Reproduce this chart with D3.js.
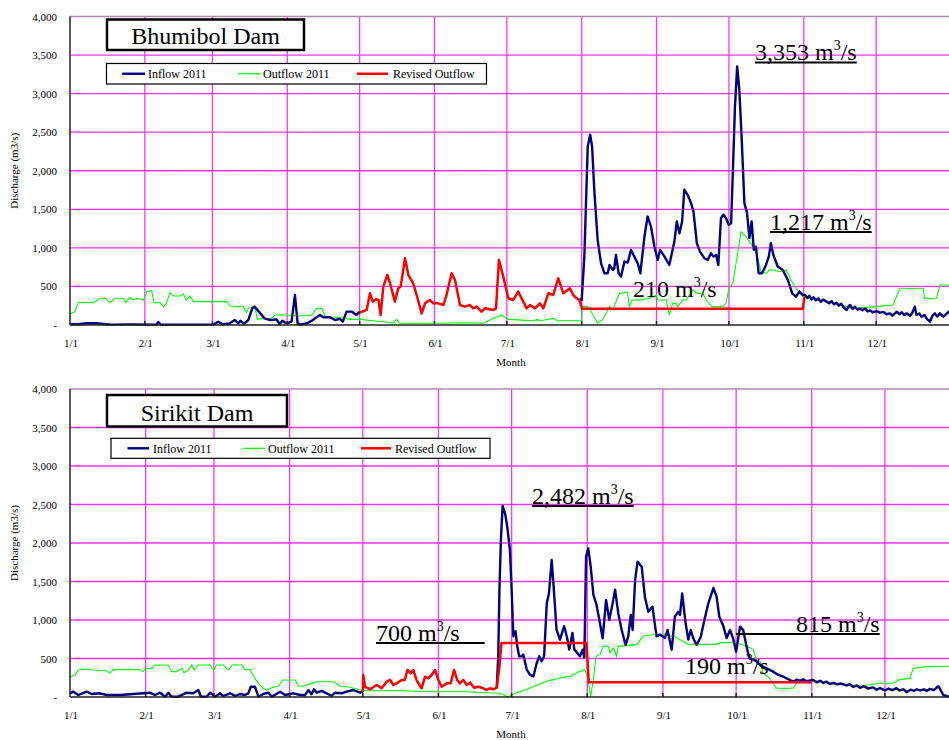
<!DOCTYPE html>
<html><head><meta charset="utf-8">
<script src="https://cdn.jsdelivr.net/npm/d3@7"></script>
<style>
body{margin:0;background:#fff}
svg{display:block}
text{font-family:"Liberation Serif","Times New Roman",serif;fill:#000}
</style>
</head><body>
<svg id="c" width="949" height="740"></svg>
<script>
// ---------- categories / ticks ----------
const monthLabels = ["1/1","2/1","3/1","4/1","5/1","6/1","7/1","8/1","9/1","10/1","11/1","12/1"];
const monthDays   = [0,31,59,90,120,151,181,212,243,273,304,334];
const yTicks      = [0,500,1000,1500,2000,2500,3000,3500,4000];
const seriesNames = ["Inflow 2011","Outflow 2011","Revised Outflow"];

// ---------- Bhumibol Dam (day of year, m3/s) ----------
const bhuOutflow = [[0,143],[2,172],[3.5,294],[9.7,290],[12.4,346],[14.5,346],[16.6,290],[18.6,346],[22,346],[23,290],[24.8,359],[26,324],[27.6,346],[29,335],[30.4,324],[31.8,432],[33.8,445],[34.8,290],[37.3,290],[38.7,238],[40,281],[41.4,419],[43,376],[45.6,376],[47,402],[48.1,324],[49.7,376],[51.1,303],[56.6,303],[64.9,303],[66.3,246],[71.8,238],[73.1,160],[73.8,216],[76.6,238],[77.6,73],[80.1,86],[82.9,73],[85,130],[89.8,130],[95.3,117],[100.1,130],[102.2,216],[104.3,216],[105.6,117],[109,100],[112,100],[116,73],[120.1,73],[129.8,43],[134,30],[135.3,73],[136.5,22],[150.5,22],[164.3,30],[171.2,22],[174,65],[178.8,130],[181.6,73],[192,56],[193.5,73],[195,56],[200.2,86],[202,56],[212,56],[212.3,238],[214,238],[215.5,200],[218.6,22],[220.6,65],[223.5,238],[224.9,195],[227,367],[227.7,410],[231,424],[231.7,238],[233,324],[236.4,324],[240,346],[243,389],[243.5,324],[247,324],[248.3,130],[249.7,281],[251,281],[251.7,238],[253.9,324],[255.2,324],[256.6,389],[258,454],[260,410],[262.2,410],[263.6,324],[266,238],[270.4,238],[271.8,281],[273,476],[274.6,540],[276.6,929],[278,1210],[280,1145],[282,1059],[284.2,950],[286.3,691],[288.4,670],[289.8,713],[291.8,713],[293.9,691],[296.7,713],[298.7,583],[300.8,475],[303.6,367],[306.3,346],[310.7,324],[317,281],[324.5,216],[334.2,238],[341,260],[343.8,476],[353.5,476],[354,346],[359,346],[360.4,519],[365,519]];
const bhuInflowA = [[0,13],[3,10],[7,22],[11,22],[17,5],[25,8],[35.9,5],[36.6,39],[37.6,3],[45,5],[59.4,5],[61.4,43],[63.2,9],[66,20],[68.3,65],[69.7,22],[70.6,56],[72,13],[73.9,65],[75.5,216],[76.5,238],[77.5,200],[80.6,86],[83,65],[85.6,73],[86.8,13],[88,56],[89.7,20],[91.8,43],[93.2,389],[94.3,20],[95.4,5],[98.2,22],[99.4,43],[100.3,56],[101.5,86],[103.5,130],[105,100],[107.7,100],[109.8,65],[111.8,80],[113,43],[114.6,173],[116.8,173],[118.7,130],[120.1,173]];
const bhuInflowB = [[211,333],[212,325],[213.1,887],[214.5,2316],[215.5,2468],[216.3,2316],[217.2,1753],[218.6,1104],[220,801],[221.4,671],[222.8,671],[223.5,779],[224.9,714],[225.5,736],[226.2,909],[227.3,671],[228.3,628],[229.7,823],[231.1,810],[232.4,974],[233.8,887],[235.2,801],[236.3,671],[238,1147],[239.3,1407],[240.7,1277],[242.1,1017],[243.5,844],[244.5,974],[246.3,887],[248.3,779],[250.4,1082],[251.4,1342],[252.5,1190],[253.6,1342],[254.5,1753],[255.9,1688],[257.3,1580],[258.3,1472],[259.7,1060],[261,952],[262.8,866],[264.2,844],[265.6,931],[266.6,887],[267.7,909],[268.6,779],[269.7,1385],[270.7,1429],[271.8,1385],[272.9,1299],[273.9,1320],[274.6,1970],[275.5,2835],[276.4,3353],[277.3,3052],[278.3,2403],[279.4,1580],[280.5,1450],[281.5,1126],[282.4,1342],[283.3,974],[284.2,1017],[285.3,671],[286.7,671],[288.1,758],[289.5,887],[290.4,1060],[291.4,909],[293.2,758],[295.3,714],[297.4,584],[299.2,411],[300.8,368],[302.2,433],[303.6,390],[304.5,389],[305.5,350],[306.3,380],[307.2,330],[308,360],[309,320],[310,345],[311,300],[312,330],[313.5,303],[314.5,280],[315.5,310],[316.5,270],[317.6,290],[318.5,250],[319.5,275],[320.5,230],[321.8,194],[322.5,240],[323.2,260],[324.2,210],[325.2,235],[326.2,200],[327.3,216],[328.3,190],[329.5,215],[330.5,175],[331.5,190],[332.5,165],[334.2,180],[335.5,160],[337,170],[338.2,140],[339.7,150],[340.8,120],[342.5,173],[343.6,140],[344.6,165],[345.6,130],[346.6,151],[348,120],[349,160],[350,238],[350.7,130],[351.8,150],[352.8,108],[354,130],[355,80],[356.3,43],[357.3,120],[358.3,151],[359.3,110],[360.4,151],[361.8,108],[363,140],[364.1,173],[365,160]];
const bhuRevised = [[120.1,160],[122.9,195],[124.3,411],[125.4,303],[126.8,335],[127.8,324],[128.7,130],[129.8,497],[131.5,648],[132.6,541],[134.6,303],[136,476],[137,497],[138.8,865],[140.2,648],[142.2,541],[143.6,389],[145.7,151],[147.1,281],[149.1,324],[150.5,281],[152.6,281],[154.7,259],[156,389],[158.1,670],[159.5,584],[161.6,259],[163.6,238],[165.7,259],[167.1,216],[168.5,238],[170.5,173],[171.9,216],[175.4,195],[176.5,216],[177.7,843],[179.5,627],[181.6,346],[183.6,324],[185.7,432],[187.1,346],[189.2,216],[190.6,259],[192.6,216],[194.7,281],[196.1,216],[198.2,411],[200.2,389],[202.3,605],[204.4,411],[207.1,476],[208.5,389],[209.9,346],[211,324],[212.2,210],[303.6,210],[304.3,367]];

// ---------- Sirikit Dam ----------
const sirOutflow = [[0,264],[2,286],[3.4,351],[5.5,364],[9.6,351],[15,342],[16.4,307],[17.8,355],[28.7,355],[29.8,329],[31.4,372],[33.4,372],[34.8,416],[40.3,416],[41.7,329],[43.7,329],[45.8,372],[46.7,316],[48.5,351],[49.9,416],[50.9,351],[52.6,416],[57.4,416],[58.7,351],[60,416],[62.8,416],[64.9,351],[66.5,416],[70.4,416],[71.7,355],[73.8,355],[75.4,264],[77.2,177],[79.2,113],[80.6,91],[82.7,121],[85.4,143],[87.2,221],[92.2,221],[93.6,143],[96,143],[99,177],[101.1,199],[107.9,199],[110.7,143],[114.8,126],[118.9,91],[121.6,82],[135.2,82],[150.3,69],[162.6,69],[170.8,56],[176.2,48],[179.6,0],[181.7,39],[185,74],[188.5,117],[195.4,204],[200.8,247],[204.9,268],[209,333],[211,355],[212,268],[213.4,7],[214.5,225],[215.6,528],[217.2,550],[218.5,658],[220.6,658],[221.3,571],[222.7,636],[224,528],[224.7,658],[232.2,680],[235,788],[237,801],[241.8,818],[247.3,788],[248.6,771],[253.4,684],[265,684],[266.5,706],[271.8,706],[275.3,684],[278.7,641],[280,615],[281.4,480],[282.8,463],[284.2,300],[286.2,264],[289.6,113],[296.4,113],[297.8,178],[301.9,212],[304.6,221],[310.1,178],[316.9,156],[323.8,143],[332,178],[337.4,178],[340.2,229],[344.2,242],[345.6,373],[351,394],[365,403]];
const sirInflowA = [[0,48],[1.4,69],[3.4,26],[6.8,69],[8.9,39],[12.3,48],[15,26],[20.5,26],[26,39],[30,48],[32.8,56],[34.8,26],[36.9,56],[39,4],[40.3,56],[41.7,4],[44.4,4],[47.8,56],[50.5,48],[52.6,91],[53.7,4],[56,4],[57.4,56],[59.5,4],[61.5,48],[62.8,13],[65.6,48],[67.7,13],[69.7,39],[71.7,26],[73.1,48],[74.1,134],[75.8,134],[77.2,4],[79.2,39],[81.3,56],[82.7,4],[86.1,69],[88.1,26],[91.5,48],[94.3,26],[96.3,26],[97.7,91],[99,35],[100,100],[101.1,56],[103.1,80],[105.2,48],[107.2,13],[108.6,56],[111.3,48],[113.4,69],[116.1,91],[118.9,56],[120,69]];
const sirInflowB = [[174.9,121],[175.5,524],[176,1394],[176.6,2043],[177.3,2481],[178.3,2385],[179.2,2212],[180.3,1909],[181,1394],[181.7,788],[182.1,831],[182.6,853],[183.3,658],[184.1,528],[185.1,528],[185.8,550],[187.2,355],[188.5,290],[189.9,268],[191.3,442],[192.3,528],[193.3,463],[194.3,528],[195.4,1216],[196.3,1346],[197.4,1779],[198.3,1394],[199.4,874],[200.8,745],[202.5,918],[203.6,788],[204.6,615],[205.9,831],[206.7,615],[207.9,571],[209,528],[210.1,615],[210.8,507],[211.5,1822],[212.4,1930],[213.4,1692],[214.5,1325],[215.8,1195],[217.2,957],[218.3,762],[219.7,1259],[221,1000],[222.4,1216],[223.4,1394],[224.7,1086],[226.1,870],[227.7,675],[228.8,788],[229.8,1065],[230.6,870],[231.6,1519],[232.6,1757],[234.3,1692],[235.6,1303],[237,1108],[238.7,1173],[240.4,788],[241.8,810],[243.8,766],[244.9,870],[246.6,615],[247.9,1043],[249.3,1108],[250,1065],[250.9,1346],[252.3,957],[253.4,745],[254.4,870],[255.4,766],[256.8,675],[258.5,780],[260,1000],[261.6,1216],[263.7,1415],[265,1303],[266.1,1043],[267.8,918],[269.1,766],[270.5,870],[271.9,745],[273,589],[274,788],[274.6,913],[275.9,870],[277.3,654],[278.4,502],[280.7,480],[282.8,416],[285.5,372],[288.2,329],[290.3,286],[292.3,264],[295,221],[296.5,200],[298,225],[299.2,210],[300.5,230],[302,205],[304.6,221],[306,190],[307.5,210],[308.7,185],[310,200],[311.5,170],[312.8,185],[314.5,165],[316,175],[318.3,150],[319.5,165],[321,130],[322.5,150],[323.8,120],[325.5,140],[327,110],[329.2,125],[330.5,95],[332,115],[334,85],[335.5,110],[337,90],[338.7,115],[340,85],[341.5,100],[342.9,65],[344.5,95],[346,80],[347,100],[348.5,85],[350,100],[351,80],[352.5,105],[354,90],[355.9,140],[357,80],[357.9,26],[360.2,5],[365,0]];
const sirRevised = [[120,69],[120.2,286],[120.9,134],[123,100],[125.7,156],[127.7,113],[129.8,199],[131.2,221],[132.5,156],[133.9,177],[135.9,221],[137.2,221],[138.3,351],[139.6,307],[140.7,351],[142,221],[144.1,113],[145.5,264],[146.8,243],[148.2,286],[149.6,351],[151,221],[152.3,134],[154.4,177],[156,177],[157.4,351],[158.7,221],[159.8,177],[161.2,221],[162.6,156],[164,186],[165.6,121],[167.3,134],[169.4,113],[170.7,91],[172.1,113],[173.5,100],[174.9,121],[176,394],[176.8,700],[211.7,700],[212.6,190],[304,190]];

// ---------- annotations ----------
const bhuNotes = [{v:"3,353",x:755,y:60,ul:[0,0]},{v:"1,217",x:770,y:229.5,ul:[0,0]},{v:"210",x:633,y:297,ul:null}];
const sirNotes = [{v:"2,482",x:532,y:503.5,ul:[0,0]},{v:"700",x:376,y:640.5,ul:[0,25]},{v:"815",x:796,y:631.5,ul:[-60,0]},{v:"190",x:685,y:674,ul:null}];

const svg = d3.select("#c");
const C = {grid:"#ff33ff", in:"#000080", out:"#00ff00", rev:"#ff0000"};

function panel(o){
  const g = svg.append("g");
  const x = d3.scaleLinear().domain([0,365]).range([70,o.xEnd]);
  const y = d3.scaleLinear().domain([0,4000]).range([o.y0,o.yTop]);
  const line = d3.line().x(d=>x(d[0])).y(d=>y(d[1]));

  g.selectAll(".hg").data(yTicks.filter(v=>v>0&&v<4000)).join("line")
    .attr("x1",70).attr("x2",949).attr("y1",d=>y(d)).attr("y2",d=>y(d))
    .attr("stroke",C.grid).attr("stroke-width",1.3);
  g.selectAll(".vg").data(monthDays.slice(1)).join("line")
    .attr("x1",d=>x(d)).attr("x2",d=>x(d)).attr("y1",y(4000)).attr("y2",y(0))
    .attr("stroke",C.grid).attr("stroke-width",1.3);
  g.append("line").attr("x1",70).attr("x2",949).attr("y1",y(4000)).attr("y2",y(4000))
    .attr("stroke","#b08ab0").attr("stroke-width",1.3);

  g.append("path").attr("d",line(o.out)).attr("fill","none").attr("stroke",C.out).attr("stroke-width",1.1);
  o.inflow.forEach(s=>g.append("path").attr("d",line(s)).attr("fill","none").attr("stroke",C.in).attr("stroke-width",2.4).attr("stroke-linejoin","round"));
  g.append("path").attr("d",line(o.rev)).attr("fill","none").attr("stroke",C.rev).attr("stroke-width",2.5).attr("stroke-linejoin","round");

  // axes
  g.append("line").attr("x1",70).attr("x2",70).attr("y1",y(4000)).attr("y2",y(0)).attr("stroke","#222").attr("stroke-width",1.5);
  g.append("line").attr("x1",70).attr("x2",949).attr("y1",y(0)).attr("y2",y(0)).attr("stroke","#222").attr("stroke-width",1.5);
  g.selectAll(".xt").data(monthDays.slice(1)).join("line")
    .attr("x1",d=>x(d)).attr("x2",d=>x(d)).attr("y1",y(0)-4).attr("y2",y(0)).attr("stroke","#222").attr("stroke-width",1.5);
  g.selectAll(".xl").data(monthDays).join("text")
    .attr("x",d=>x(d)+1).attr("y",y(0)+22).attr("text-anchor","middle").attr("font-size",11)
    .text((d,i)=>monthLabels[i]);
  g.selectAll(".yl").data(yTicks).join("text")
    .attr("x",57).attr("y",d=>y(d)+4).attr("text-anchor","end").attr("font-size",11)
    .text(d=>d===0?"-":d3.format(",")(d));
  g.append("text").attr("transform",`translate(18,${(y(0)+y(4000))/2}) rotate(-90)`)
    .attr("text-anchor","middle").attr("font-size",11).text("Discharge (m3/s)");
  g.append("text").attr("x",511).attr("y",y(0)+41).attr("text-anchor","middle").attr("font-size",11).text("Month");

  // title box
  g.append("rect").attr("x",o.tb[0]).attr("y",o.tb[1]).attr("width",o.tb[2]).attr("height",o.tb[3])
    .attr("fill","#fff").attr("stroke","#000").attr("stroke-width",2.5);
  g.append("text").attr("x",o.tb[0]+o.tb[2]/2).attr("y",o.tb[1]+o.tb[3]-6).attr("text-anchor","middle")
    .attr("font-size",24).text(o.title);

  // legend
  const L = o.lg;
  g.append("rect").attr("x",L[0]).attr("y",L[1]).attr("width",L[2]).attr("height",L[3])
    .attr("fill","#fff").attr("stroke","#000").attr("stroke-width",1.2);
  const cols=[C.in,C.out,C.rev], wid=[2.4,1.2,2.5];
  o.items.forEach((it,i)=>{
    g.append("line").attr("x1",it[0]).attr("x2",it[1]).attr("y1",L[1]+L[3]/2).attr("y2",L[1]+L[3]/2)
      .attr("stroke",cols[i]).attr("stroke-width",wid[i]);
    g.append("text").attr("x",it[2]).attr("y",L[1]+L[3]/2+4.5).attr("font-size",12).text(seriesNames[i]);
  });

  // annotations
  o.notes.forEach(n=>{
    const t = g.append("text").attr("x",n.x).attr("y",n.y).attr("font-size",24);
    t.append("tspan").text(n.v+" m");
    t.append("tspan").attr("font-size",14).attr("dy",-10).text("3");
    t.append("tspan").attr("dy",10).text("/s");
    if(n.ul){
      const b = t.node().getBBox();
      g.append("line").attr("x1",b.x+n.ul[0]).attr("x2",b.x+b.width+n.ul[1])
        .attr("y1",n.y+2.5).attr("y2",n.y+2.5).attr("stroke","#000").attr("stroke-width",2.2);
    }
  });
}

panel({xEnd:951, y0:325, yTop:16.5, out:bhuOutflow, inflow:[bhuInflowA,bhuInflowB], rev:bhuRevised,
  title:"Bhumibol Dam", tb:[107,19.5,197,30.5], lg:[106.5,63.5,380,20.5],
  items:[[122,145,148],[238,260,263],[357,388,393]], notes:bhuNotes});
panel({xEnd:960.6, y0:697, yTop:389, out:sirOutflow, inflow:[sirInflowA,sirInflowB], rev:sirRevised,
  title:"Sirikit Dam", tb:[107,395,180,31.5], lg:[111,438.3,379,20],
  items:[[127.5,149,153],[243,265,268],[361,391,395]], notes:sirNotes});
</script>
</body></html>
